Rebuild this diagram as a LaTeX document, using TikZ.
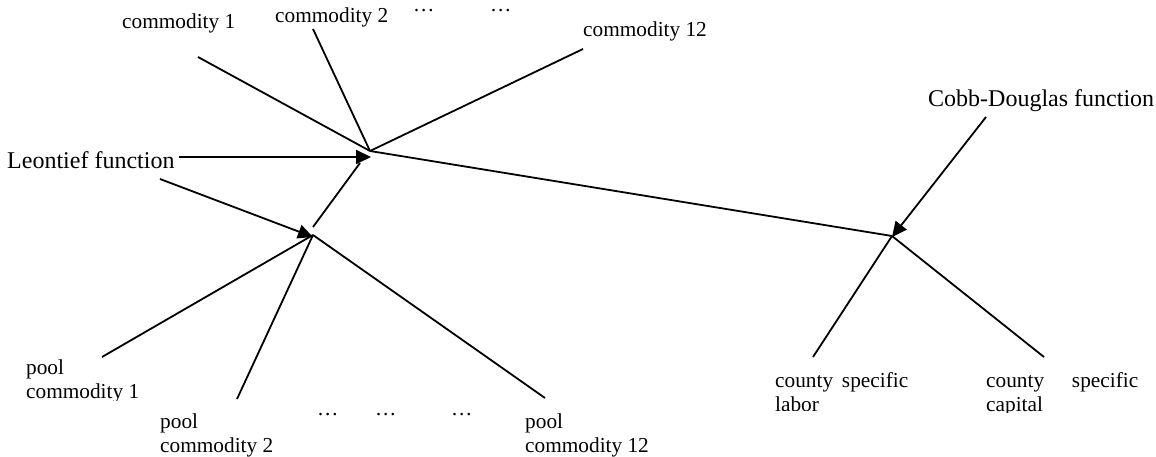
\documentclass[tikz,border=0pt]{standalone}
\usepackage{fontspec}
\setmainfont{Liberation Serif}
\usetikzlibrary{arrows.meta}

\tikzset{
  wire/.style={line width=1.8pt, line cap=butt},
  feed/.style={wire, -{Triangle[length=15pt,width=14pt]}},
  small/.style={inner sep=0pt, anchor=base west, align=left,
                font=\fontsize{21.3}{24}\selectfont},
  big/.style={inner sep=0pt, anchor=base west,
              font=\fontsize{24}{28}\selectfont},
  gap/.style={inner sep=0pt, anchor=base west, text height=3pt, text depth=0pt,
              font=\fontsize{21.3}{24}\selectfont}
}

\begin{document}
\begin{tikzpicture}[x=1pt,y=-1pt]
  \useasboundingbox (0,0) rectangle (1156,457);

  % labels of the upper nest
  \node[small] (com1)  at (122,29) {commodity 1};
  \node[small] (com2)  at (275,23) {commodity 2};
  \node[gap]   (dotsA) at (413,12) {…};
  \node[gap]   (dotsB) at (490,12) {…};
  \node[small] (com12) at (583,37) {commodity 12};
  \node[big]   (leon)  at (7,169) {Leontief function};
  \node[big]   (cobb)  at (928,107) {Cobb-Douglas function};

  % labels of the pooled inputs (the lowest one is cut off by its box)
  \begin{scope}
    \clip (0,340) rectangle (160,400);
    \node[small] (pool1) at (26,398) {pool\\commodity 1};
  \end{scope}
  \node[small] (pool2)  at (160,452) {pool\\commodity 2};
  \node[gap]   (dotsC)  at (317,415) {…};
  \node[gap]   (dotsD)  at (375,415) {…};
  \node[gap]   (dotsE)  at (451,415) {…};
  \node[small] (pool12) at (525,452) {pool\\commodity 12};

  % factor labels, cut off at the bottom of their boxes
  \begin{scope}
    \clip (760,360) rectangle (960,410);
    \node[small] (labor) at (775,411)
      {\hbox to 133pt{county\hfil specific}\\labor};
  \end{scope}
  \begin{scope}
    \clip (970,360) rectangle (1156,412);
    \node[small] (capital) at (986,411)
      {\hbox to 152pt{county\hfil specific}\\capital};
  \end{scope}

  % junction points and line ends
  \coordinate (U)   at (370,151);
  \coordinate (L)   at (313,235);
  \coordinate (C)   at (892,236);
  \coordinate (c1)  at (198,57);
  \coordinate (c2)  at (313,29);
  \coordinate (c12) at (583,49);
  \coordinate (lh0) at (179,157);
  \coordinate (lh1) at (371,157);
  \coordinate (ll0) at (160,179);
  \coordinate (ll1) at (313,237);
  \coordinate (lu0) at (313,227);
  \coordinate (lu1) at (360,163);
  \coordinate (p1)  at (102,357);
  \coordinate (p2)  at (237,399);
  \coordinate (p12) at (545,398);
  \coordinate (cd0) at (986,117);
  \coordinate (cd1) at (892,237);
  \coordinate (fl)  at (813,357);
  \coordinate (fk)  at (1044,357);

  % upper Leontief nest
  \draw[wire] (c1) -- (U);
  \draw[wire] (c2) -- (U);
  \draw[wire] (c12) -- (U);
  \draw[feed] (lh0) -- (lh1);

  % lower Leontief nest
  \draw[feed] (ll0) -- (ll1);
  \draw[wire] (lu0) -- (lu1);
  \draw[wire] (p1) -- (L);
  \draw[wire] (p2) -- (L);
  \draw[wire] (L) -- (p12);

  % Cobb-Douglas nest
  \draw[wire] (U) -- (C);
  \draw[feed] (cd0) -- (cd1);
  \draw[wire] (fl) -- (C);
  \draw[wire] (C) -- (fk);
\end{tikzpicture}
\end{document}
